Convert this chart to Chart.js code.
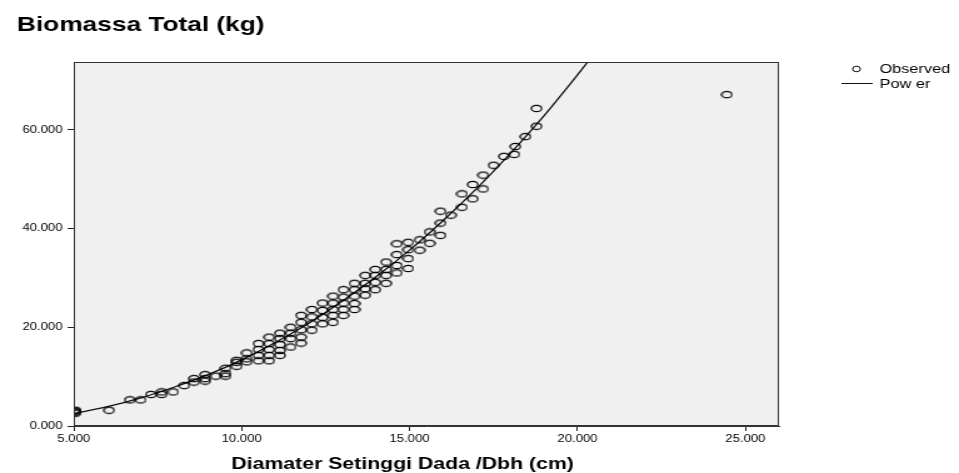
<!DOCTYPE html>
<html>
<head>
<meta charset="utf-8">
<script src="https://cdn.jsdelivr.net/npm/chart.js@4.4.1/dist/chart.umd.min.js"></script>
<style>
  html, body { margin: 0; padding: 0; background: #fff; }
  #plot { display: block; }
</style>
</head>
<body>
<!-- canvas is drawn narrower and shown wider, like the old SPSS export -->
<canvas id="plot" width="767" height="473" style="width:959px;height:473px"></canvas>
<script>
const titleText = 'Biomassa Total (kg)';
const xCaption = 'Diamater Setinggi Dada /Dbh (cm)';
const legendNames = ['Observed', 'Pow er'];
const xTicks = [5, 10, 15, 20, 25];
const yTicks = [0, 20, 40, 60];

// observed trees: diameter (cm) and total biomass (kg), column by column
const dbh = [
  5.05, 5.05, 5.05, 5.05, 6.05, 6.67, 6.99, 7.30, 7.62, 7.62, 7.96, 8.29,
  8.58, 8.58, 8.91, 8.91, 8.91, 9.23, 9.52, 9.52, 9.52, 9.85, 9.85, 9.85,
  10.15, 10.15, 10.15, 10.50, 10.50, 10.50, 10.50,
  10.82, 10.82, 10.82, 10.82, 10.82, 11.14, 11.14, 11.14, 11.14, 11.14,
  11.46, 11.46, 11.46, 11.46, 11.77, 11.77, 11.77, 11.77, 11.77,
  12.09, 12.09, 12.09, 12.09, 12.41, 12.41, 12.41, 12.41,
  12.72, 12.72, 12.72, 12.72, 12.72, 13.03, 13.03, 13.03, 13.03, 13.03,
  13.36, 13.36, 13.36, 13.36, 13.36, 13.68, 13.68, 13.68, 13.68,
  13.98, 13.98, 13.98, 13.98, 14.30, 14.30, 14.30, 14.30,
  14.62, 14.62, 14.62, 14.62, 14.96, 14.96, 14.96, 14.96,
  15.30, 15.30, 15.60, 15.60, 15.92, 15.92, 15.92, 16.23,
  16.56, 16.56, 16.88, 16.88, 17.19, 17.19, 17.50, 17.81,
  18.12, 18.15, 18.45, 18.78, 18.78, 24.45
];
const biomassa = [
  2.6, 2.8, 3.0, 3.2, 3.2, 5.3, 5.3, 6.4, 6.9, 6.4, 6.9, 8.2,
  8.9, 9.6, 10.4, 9.6, 9.1, 10.1, 11.7, 10.6, 10.1, 13.3, 12.9, 12.1,
  14.8, 13.6, 13.0, 16.7, 15.5, 14.3, 13.2,
  18.0, 16.7, 15.5, 14.3, 13.2, 18.8, 17.7, 16.5, 15.3, 14.3,
  20.0, 18.8, 17.7, 16.0, 22.4, 21.0, 19.5, 18.0, 16.8,
  23.6, 22.1, 20.7, 19.4, 24.9, 23.4, 22.0, 20.7,
  26.3, 24.9, 23.6, 22.4, 21.0, 27.6, 26.1, 24.9, 23.6, 22.4,
  28.9, 27.6, 26.3, 24.8, 23.6, 30.5, 28.9, 27.8, 26.5,
  31.7, 30.5, 29.1, 27.6, 33.2, 31.7, 30.5, 28.9,
  36.9, 34.7, 32.5, 31.0, 37.2, 35.7, 33.9, 31.9,
  37.7, 35.6, 39.3, 37.0, 43.5, 41.1, 38.6, 42.7,
  47.0, 44.3, 48.9, 46.0, 50.8, 48.0, 52.8, 54.6,
  55.0, 56.6, 58.6, 60.7, 64.3, 67.1
];

// fitted power curve
const curveDbh = [5, 6, 7, 8, 9, 10, 11, 12, 13, 14, 15, 16, 17, 18, 19, 20, 20.5];
const curveBio = [2.5, 3.9, 5.7, 7.9, 10.4, 13.4, 16.9, 20.8, 25.3, 30.2, 35.6, 41.6, 48.1, 55.2, 62.8, 71.1, 75.4];

const FONT = '"Liberation Sans", Arial, sans-serif';

// hollow ellipse used as marker
function makeMarker(w, h, rx, ry) {
  const c = document.createElement('canvas');
  c.width = w; c.height = h;
  const g = c.getContext('2d');
  g.strokeStyle = '#000';
  g.lineWidth = 1.25;
  g.beginPath();
  g.ellipse(w / 2, h / 2, rx, ry, 0, 0, Math.PI * 2);
  g.stroke();
  return c;
}
const marker = makeMarker(10, 9, 4.1, 3.2);

const frame = {
  id: 'frame',
  beforeDraw(chart) {
    const { ctx, chartArea: a } = chart;
    ctx.save();
    ctx.fillStyle = '#f0f0f0';
    ctx.fillRect(a.left, a.top, a.right - a.left, a.bottom - a.top);
    ctx.restore();
  },
  afterDraw(chart) {
    const { ctx, chartArea: a } = chart;
    ctx.save();
    ctx.strokeStyle = '#333';
    ctx.lineWidth = 1;
    ctx.strokeRect(a.left + 0.5, a.top + 0.5, a.right - a.left - 1, a.bottom - a.top - 1);

    ctx.fillStyle = '#000';
    ctx.textBaseline = 'middle';
    ctx.textAlign = 'left';
    ctx.font = 'bold 21px ' + FONT;
    ctx.fillText(titleText, 13.6, 25);

    ctx.textAlign = 'center';
    ctx.font = 'bold 17px ' + FONT;
    ctx.fillText(xCaption, 322, 464);

    // legend
    ctx.textAlign = 'left';
    ctx.font = '13px ' + FONT;
    ctx.strokeStyle = '#111';
    ctx.lineWidth = 1;
    ctx.beginPath();
    ctx.ellipse(685, 69, 3.1, 2.8, 0, 0, Math.PI * 2);
    ctx.stroke();
    ctx.fillText(legendNames[0], 703.5, 69.5);
    ctx.beginPath();
    ctx.moveTo(673, 83.5);
    ctx.lineTo(698, 83.5);
    ctx.stroke();
    ctx.fillText(legendNames[1], 703.5, 84);
    ctx.restore();
  }
};

const axisCommon = {
  type: 'linear',
  grid: { display: true, drawOnChartArea: false, drawTicks: true, tickLength: 5, tickColor: '#222', tickWidth: 1 },
  border: { display: true, color: '#333', width: 1 },
};

const canvas = document.getElementById('plot');
new Chart(canvas, {
  type: 'scatter',
  data: {
    datasets: [
      {
        label: legendNames[0],
        data: dbh.map((x, i) => ({ x, y: biomassa[i] })),
        pointStyle: marker,
        pointRadius: 4,
        showLine: false
      },
      {
        label: legendNames[1],
        data: curveDbh.map((x, i) => ({ x, y: curveBio[i] })),
        showLine: true,
        pointRadius: 0,
        borderColor: '#111',
        borderWidth: 1.3,
        cubicInterpolationMode: 'monotone',
        fill: false
      }
    ]
  },
  options: {
    responsive: false,
    animation: false,
    devicePixelRatio: 1,
    events: [],
    layout: { padding: { top: 62, right: 144, bottom: 0, left: 0 } },
    plugins: { legend: { display: false }, tooltip: { enabled: false }, title: { display: false } },
    scales: {
      x: {
        ...axisCommon,
        position: 'bottom',
        min: 5,
        max: 26,
        afterBuildTicks: s => { s.ticks = xTicks.map(v => ({ value: v })); },
        afterFit: s => { s.height = 47; },
        ticks: {
          color: '#000', padding: 2, maxRotation: 0, autoSkip: false,
          font: { family: FONT, size: 10.5 },
          callback: v => v.toFixed(3)
        }
      },
      y: {
        ...axisCommon,
        position: 'left',
        min: 0,
        max: 73.7,
        afterBuildTicks: s => { s.ticks = yTicks.map(v => ({ value: v })); },
        afterFit: s => { s.width = 59; },
        ticks: {
          color: '#000', padding: 4, autoSkip: false,
          font: { family: FONT, size: 10.5 },
          callback: v => v.toFixed(3)
        }
      }
    }
  },
  plugins: [frame]
});
// keep the wide display size
canvas.style.width = '959px';
canvas.style.height = '473px';
</script>
</body>
</html>
